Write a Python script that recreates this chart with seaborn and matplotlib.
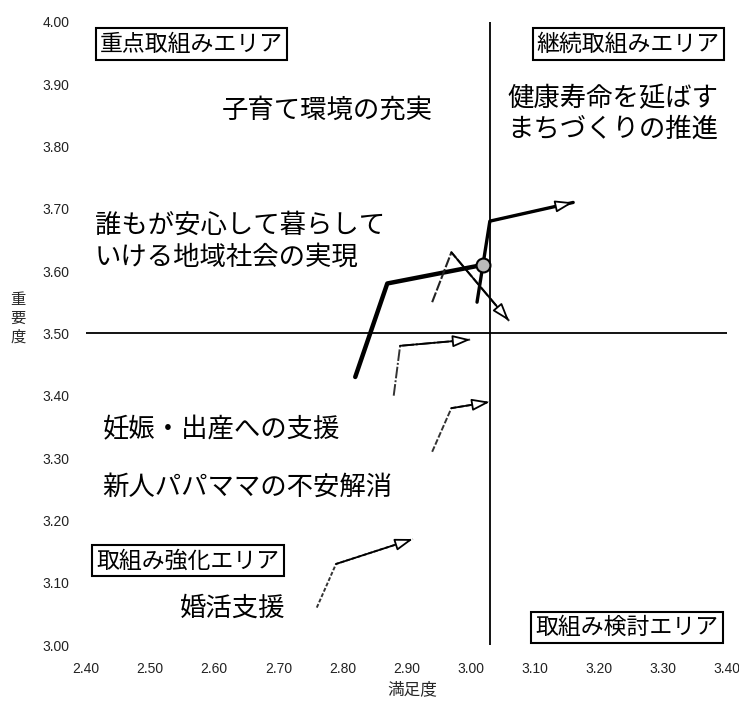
import matplotlib
matplotlib.use("Agg")
import matplotlib.pyplot as plt
import seaborn as sns
import pandas as pd

sns.set_theme(style="white")
plt.rcParams["font.family"] = ["Noto Sans CJK JP", "DejaVu Sans"]

# Satisfaction / importance for each policy item over three survey rounds
series = ["A", "B", "C", "D", "E", "F"]
sat_r1 = [2.82, 3.01, 2.94, 2.88, 2.94, 2.76]
sat_r2 = [2.87, 3.03, 2.97, 2.89, 2.97, 2.79]
sat_r3 = [3.02, 3.16, 3.06, 3.00, 3.03, 2.91]
imp_r1 = [3.43, 3.55, 3.55, 3.40, 3.31, 3.06]
imp_r2 = [3.58, 3.68, 3.63, 3.48, 3.38, 3.13]
imp_r3 = [3.61, 3.71, 3.52, 3.49, 3.39, 3.17]

# Averages that split the chart into four areas
sat_mean = 3.03
imp_mean = 3.50

x_ticks = [2.40, 2.50, 2.60, 2.70, 2.80, 2.90, 3.00, 3.10, 3.20, 3.30, 3.40]
y_ticks = [3.00, 3.10, 3.20, 3.30, 3.40, 3.50, 3.60, 3.70, 3.80, 3.90, 4.00]

item_labels = ["子育て環境の充実",
               "健康寿命を延ばす\nまちづくりの推進",
               "誰もが安心して暮らして\nいける地域社会の実現",
               "妊娠・出産への支援",
               "新人パパママの不安解消",
               "婚活支援"]
item_label_x = [2.612, 3.057, 2.414, 2.427, 2.425, 2.547]
item_label_y = [3.857, 3.852, 3.648, 3.345, 3.253, 3.059]

area_labels = ["重点取組みエリア", "継続取組みエリア", "取組み強化エリア", "取組み検討エリア"]
area_x = [2.564, 3.246, 2.559, 3.244]
area_y = [3.964, 3.964, 3.135, 3.028]

rows = []
for i, s in enumerate(series):
    for r, (sx, iy) in enumerate([(sat_r1[i], imp_r1[i]), (sat_r2[i], imp_r2[i]), (sat_r3[i], imp_r3[i])]):
        rows.append({"series": s, "round": r, "sat": sx, "imp": iy})
df = pd.DataFrame(rows)

line_styles = {
    "A": dict(color="black", lw=3.2, ls="-"),
    "B": dict(color="black", lw=2.4, ls="-"),
    "C": dict(color="#222222", lw=1.5, ls=(0, (5, 1))),
    "D": dict(color="#333333", lw=1.4, ls=(0, (6, 1, 1, 1))),
    "E": dict(color="#333333", lw=1.4, ls=(0, (3, 1))),
    "F": dict(color="#333333", lw=1.4, ls=(0, (2, 1))),
}

fig = plt.figure(figsize=(7.39, 7.04), dpi=100)
ax = fig.add_axes([0.1164, 0.0838, 0.8674, 0.8854])

ax.axhline(imp_mean, color="black", lw=1.3, zorder=1)
ax.axvline(sat_mean, color="black", lw=1.3, zorder=1)

for s in series:
    d = df[df["series"] == s].sort_values("round")
    st = line_styles[s]
    sns.lineplot(data=d, x="sat", y="imp", sort=False, estimator=None,
                 color=st["color"], linewidth=st["lw"], linestyle=st["ls"],
                 ax=ax, zorder=3)
    p2 = (d["sat"].iloc[1], d["imp"].iloc[1])
    p3 = (d["sat"].iloc[2], d["imp"].iloc[2])
    if s == "A":
        ax.plot([p3[0]], [p3[1]], marker="o", markersize=10,
                markerfacecolor="#bbbbbb", markeredgecolor="black",
                markeredgewidth=1.5, zorder=4)
    else:
        ax.annotate("", xy=p3, xytext=p2,
                    arrowprops=dict(arrowstyle="-|>,head_length=0.9,head_width=0.3",
                                    fc="white", ec="black", lw=1.3,
                                    shrinkA=0, shrinkB=0),
                    zorder=4)

for txt, tx, ty in zip(item_labels, item_label_x, item_label_y):
    ax.text(tx, ty, txt, fontsize=19, ha="left", va="center",
            linespacing=1.2, color="black", zorder=5)

for txt, tx, ty in zip(area_labels, area_x, area_y):
    ax.text(tx, ty, txt, fontsize=16.5, ha="center", va="center",
            color="black", zorder=5,
            bbox=dict(boxstyle="square,pad=0.18", fc="white", ec="black", lw=1.5))

ax.set_xlim(2.40, 3.40)
ax.set_ylim(3.00, 4.00)
ax.set_xticks(x_ticks)
ax.set_yticks(y_ticks)
ax.set_xticklabels([f"{v:.2f}" for v in x_ticks], fontsize=10, family="Liberation Sans")
ax.set_yticklabels([f"{v:.2f}" for v in y_ticks], fontsize=10, family="Liberation Sans")
ax.tick_params(axis="x", length=0, pad=12, colors="#222222")
ax.tick_params(axis="y", length=0, pad=12, colors="#222222")
ax.set_xlabel("")
ax.set_ylabel("")
for sp in ax.spines.values():
    sp.set_visible(False)
ax.grid(False)

fig.text(412 / 739, 1 - 690 / 704, "満足度", fontsize=12, ha="center", va="center")
fig.text(18 / 739, 1 - 318 / 704, "重\n要\n度", fontsize=11, ha="center", va="center",
         linespacing=1.15)

fig.savefig("out.png", dpi=100)
